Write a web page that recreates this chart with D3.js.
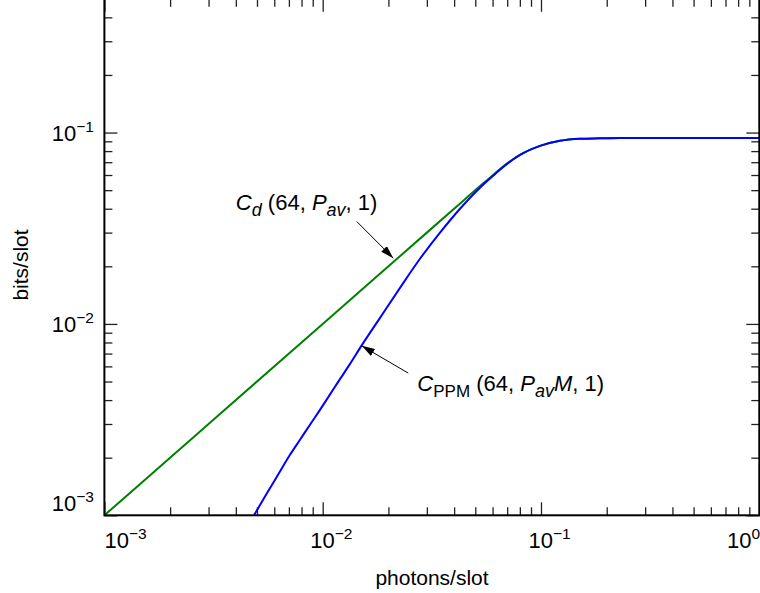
<!DOCTYPE html>
<html><head><meta charset="utf-8">
<script src="https://cdn.jsdelivr.net/npm/d3@7"></script>
<style>body{margin:0;background:#fff}svg{display:block}text{font-family:"Liberation Sans",Arial,Helvetica,sans-serif;fill:#000}</style>
</head><body><svg id="c" width="760" height="593"></svg>
<script>
// ---- data ----
const xDomain = [1e-3, 1];
const yDomain = [1e-3, 0.5];
const xMajor = [1e-3, 1e-2, 1e-1, 1];
const xMajorExp = ["−3", "−2", "−1", "0"];
const yMajor = [1e-3, 1e-2, 1e-1];
const yMajorExp = ["−3", "−2", "−1"];
// C_PPM(64, Pav M, 1) — blue
const ppmX = [0.004844,0.005499,0.006241,0.007083,0.00787,0.008745,0.009718,0.01138,0.01334,0.01514,0.01830,0.02260,0.02790,0.03446,0.04256,0.05255,0.0584,0.0649,0.08013,0.09895,0.1222,0.1509,0.1863,0.2301,1.0];
const ppmY = [0.001,0.001280,0.001628,0.002071,0.002480,0.002971,0.003557,0.004692,0.006186,0.007775,0.01076,0.01544,0.02190,0.03000,0.04000,0.05150,0.05750,0.06400,0.07647,0.08519,0.09050,0.09271,0.09330,0.09375,0.09375];
// C_d(64, Pav, 1) — green
const cdX = [0.001,0.003,0.01,0.03,0.045,0.0526,0.0584,0.0649,0.08013,0.09895,0.1222,0.1509,0.1863,0.2301,1.0];
const cdY = [0.001,0.003,0.01,0.0300,0.0450,0.0526,0.0580,0.0645,0.07647,0.08519,0.09050,0.09271,0.09330,0.09375,0.09375];
// annotations (data coords): [tailX, tailY, tipX, tipY]
const arrowCd = [0.01432, 0.03428, 0.02105, 0.02207];
const arrowPpm = [0.02466, 0.005533, 0.01510, 0.00768];
const labelCdPos = [0.00400, 0.03945];
const labelPpmPos = [0.02713, 0.004445];

// ---- layout ----
const L = 104.4, R = 759.3, T = -1.2, B = 515.3;
const svg = d3.select("#c");
const x = d3.scaleLog().domain(xDomain).range([L, R]);
const y = d3.scaleLog().domain(yDomain).range([B, T]);

svg.append("defs").append("clipPath").attr("id","clip")
  .append("rect").attr("x",L).attr("y",T).attr("width",R-L).attr("height",B-T);
const mk = svg.select("defs").append("marker").attr("id","ah")
  .attr("viewBox","0 0 13 8").attr("refX",13).attr("refY",4)
  .attr("markerWidth",13).attr("markerHeight",8).attr("markerUnits","userSpaceOnUse")
  .attr("orient","auto");
mk.append("path").attr("d","M0,0 L13,4 L0,8 Z").attr("fill","#000");

// ticks via axes
const xMinor = x.ticks().filter(v => !xMajor.some(m => Math.abs(m-v)/m < 1e-6));
const yMinor = y.ticks().filter(v => !yMajor.some(m => Math.abs(m-v)/m < 1e-6));
function axisG(axis, tr){
  const g = svg.append("g").attr("transform", tr).call(axis);
  g.select(".domain").remove();
  g.selectAll(".tick line").attr("stroke","#222").attr("stroke-width",1.3);
  g.selectAll(".tick text").remove();
  return g;
}
axisG(d3.axisBottom(x).tickValues(xMajor).tickSize(-13).tickFormat(""), `translate(0,${B})`);
axisG(d3.axisBottom(x).tickValues(xMinor).tickSize(-8).tickFormat(""), `translate(0,${B})`);
axisG(d3.axisTop(x).tickValues(xMajor).tickSize(-13).tickFormat(""), `translate(0,${T})`);
axisG(d3.axisTop(x).tickValues(xMinor).tickSize(-8).tickFormat(""), `translate(0,${T})`);
axisG(d3.axisLeft(y).tickValues(yMajor).tickSize(-13).tickFormat(""), `translate(${L},0)`);
axisG(d3.axisLeft(y).tickValues(yMinor).tickSize(-8).tickFormat(""), `translate(${L},0)`);
axisG(d3.axisRight(y).tickValues(yMajor).tickSize(-13).tickFormat(""), `translate(${R},0)`);
axisG(d3.axisRight(y).tickValues(yMinor).tickSize(-8).tickFormat(""), `translate(${R},0)`);

// curves
const line = d3.line().x(d => x(d[0])).y(d => y(d[1])).curve(d3.curveMonotoneX);
const plot = svg.append("g").attr("clip-path","url(#clip)");
plot.append("path").datum(cdX.map((v,i)=>[v,cdY[i]])).attr("d",line)
  .attr("fill","none").attr("stroke","#008000").attr("stroke-width",2);
plot.append("path").datum(ppmX.map((v,i)=>[v,ppmY[i]])).attr("d",line)
  .attr("fill","none").attr("stroke","#0000ff").attr("stroke-width",2);

// frame
svg.append("rect").attr("x",L).attr("y",T).attr("width",R-L).attr("height",B-T)
  .attr("fill","none").attr("stroke","#000").attr("stroke-width",2);

// tick labels
const FS = 22, SS = 15.5;
xMajor.forEach((v,i) => {
  const t = svg.append("text").attr("font-size",FS).attr("y",B+33);
  t.append("tspan").text("10");
  t.append("tspan").attr("font-size",SS).attr("dy",-9).text(xMajorExp[i]);
  const w = t.node().getComputedTextLength();
  let xs = x(v) - 12.5;
  if (i === 0) xs = L;
  if (xs + w > 760) xs = 760 - w;
  t.attr("x", xs);
});
yMajor.forEach((v,i) => {
  let yy = y(v) + 8;
  if (i === 0) yy = B - 12 + 8;
  const t = svg.append("text").attr("font-size",FS).attr("x",94).attr("y",yy).attr("text-anchor","end");
  t.append("tspan").text("10");
  t.append("tspan").attr("font-size",SS).attr("dy",-9).text(yMajorExp[i]);
});

// axis titles
svg.append("text").attr("font-size",21).attr("x",432).attr("y",585).attr("text-anchor","middle").text("photons/slot");
svg.append("text").attr("font-size",21).attr("transform","translate(28,265) rotate(-90)").attr("text-anchor","middle").text("bits/slot");

// annotations
function arrow(a){
  svg.append("line").attr("x1",x(a[0])).attr("y1",y(a[1])).attr("x2",x(a[2])).attr("y2",y(a[3]))
    .attr("stroke","#000").attr("stroke-width",1).attr("marker-end","url(#ah)");
}
arrow(arrowCd); arrow(arrowPpm);

const t1 = svg.append("text").attr("font-size",22).attr("x",x(labelCdPos[0])).attr("y",y(labelCdPos[1]));
t1.append("tspan").attr("font-style","italic").text("C");
t1.append("tspan").attr("font-style","italic").attr("font-size",18).attr("dy",6).text("d");
t1.append("tspan").attr("dy",-6).text(" (64, ");
t1.append("tspan").attr("font-style","italic").text("P");
t1.append("tspan").attr("font-style","italic").attr("font-size",18).attr("dy",6).text("av");
t1.append("tspan").attr("dy",-6).text(", 1)");

const t2 = svg.append("text").attr("font-size",22).attr("x",x(labelPpmPos[0])).attr("y",y(labelPpmPos[1]));
t2.append("tspan").attr("font-style","italic").text("C");
t2.append("tspan").attr("font-size",17).attr("dy",6).text("PPM");
t2.append("tspan").attr("dy",-6).text(" (64, ");
t2.append("tspan").attr("font-style","italic").text("P");
t2.append("tspan").attr("font-style","italic").attr("font-size",18).attr("dy",6).text("av");
t2.append("tspan").attr("font-style","italic").attr("dy",-6).text("M");
t2.append("tspan").text(", 1)");
</script></body></html>
